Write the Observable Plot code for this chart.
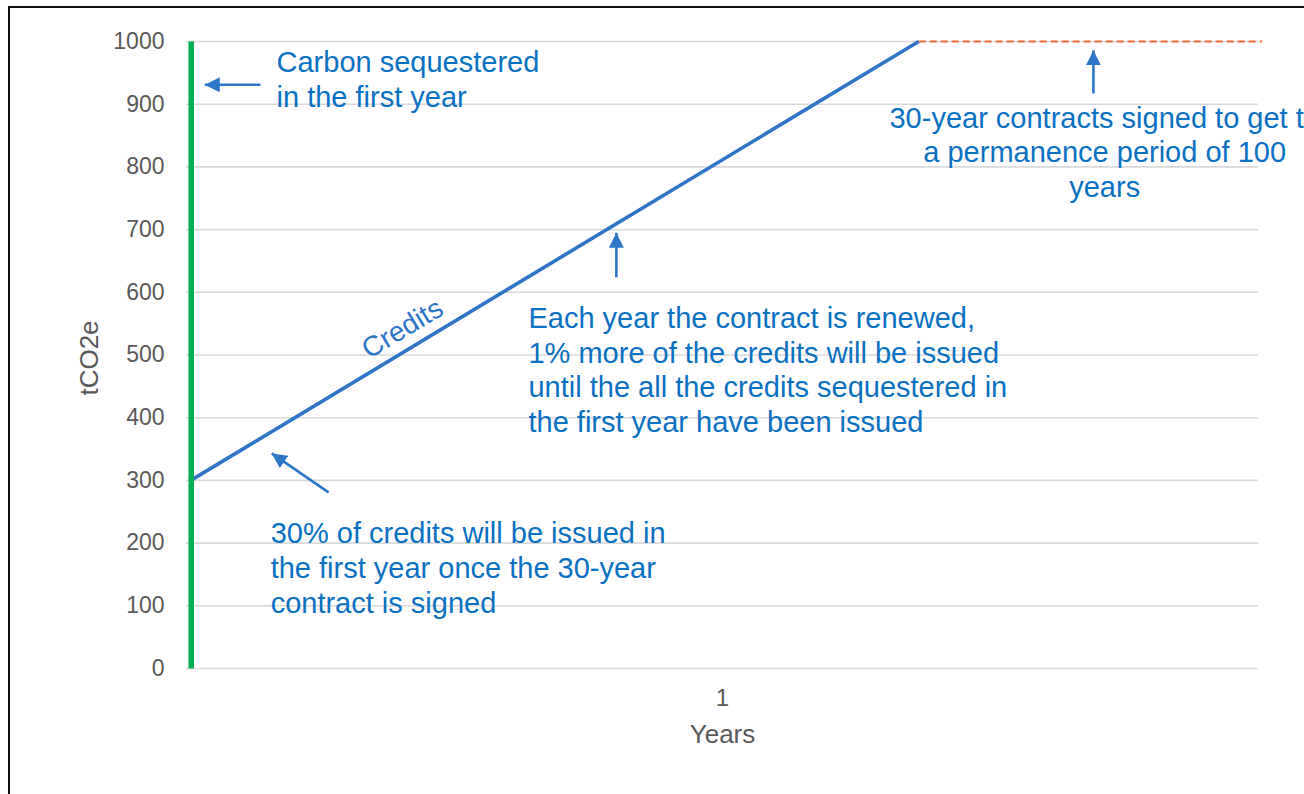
<!DOCTYPE html>
<html>
<head>
<meta charset="utf-8">
<script src="https://cdn.jsdelivr.net/npm/d3@7"></script>
<script src="https://cdn.jsdelivr.net/npm/@observablehq/plot@0.6"></script>
<style>
  html, body { margin: 0; padding: 0; background: #fff; overflow: hidden; width: 1304px; height: 794px; }
  #wrap { position: relative; width: 1304px; height: 794px; overflow: hidden; }
  #frame { position: absolute; left: 8px; top: 6px; width: 1310px; height: 800px; border: 2px solid #111; pointer-events: none; box-sizing: border-box; }
  #chart svg { display: block; max-width: none; }
</style>
</head>
<body>
<div id="wrap">
  <div id="chart"></div>
  <div id="frame"></div>
</div>
<script>
// ---- data ----
const yTicks = [0, 100, 200, 300, 400, 500, 600, 700, 800, 900, 1000];
const xTicks = [1];
const creditsX = [0.008, 1.366];
const creditsY = [300, 1000];
const permanenceX = [1.366, 2.007];
const permanenceY = [1000, 1000];
const sequesteredX = [0.0088, 0.0088];
const sequesteredY = [0, 1000];

// annotations (data units)
const noteText = [
  "Carbon sequestered\nin the first year",
  "30-year contracts signed to get to\na permanence period of 100\nyears",
  "Each year the contract is renewed,\n1% more of the credits will be issued\nuntil the all the credits sequestered in\nthe first year have been issued",
  "30% of credits will be issued in\nthe first year once the 30-year\ncontract is signed"
];
const noteX = [0.168, 1.713, 0.638, 0.157];
const noteY = [941, 825, 478, 162];
const noteAnchor = ["start", "middle", "start", "start"];

const arrowX1 = [0.138, 1.692, 0.802, 0.265];
const arrowY1 = [931, 917, 624, 281];
const arrowX2 = [0.034, 1.692, 0.802, 0.159];
const arrowY2 = [931, 986, 695, 343];

const seriesLabel = ["Credits"];
const seriesLabelX = [0.403];
const seriesLabelY = [542];

// ---- build ----
const credits = creditsX.map((x, i) => ({x, y: creditsY[i]}));
const permanence = permanenceX.map((x, i) => ({x, y: permanenceY[i]}));
const sequestered = sequesteredX.map((x, i) => ({x, y: sequesteredY[i]}));
const notes = noteText.map((t, i) => ({t, x: noteX[i], y: noteY[i], a: noteAnchor[i]}));
const arrows = arrowX1.map((x1, i) => ({x1, y1: arrowY1[i], x2: arrowX2[i], y2: arrowY2[i]}));

const blue = "#2e75c8";
const textBlue = "#0a70c2";
const font = "'Liberation Sans', Arial, sans-serif";

function headMarker(color) {
  const ns = "http://www.w3.org/2000/svg";
  const m = document.createElementNS(ns, "marker");
  m.setAttribute("viewBox", "-15 -7.5 15 15");
  m.setAttribute("markerWidth", "15");
  m.setAttribute("markerHeight", "15");
  m.setAttribute("refX", "0");
  m.setAttribute("refY", "0");
  m.setAttribute("orient", "auto");
  m.setAttribute("markerUnits", "userSpaceOnUse");
  const p = document.createElementNS(ns, "path");
  p.setAttribute("d", "M-15,-7.5L0,0L-15,7.5Z");
  p.setAttribute("fill", color);
  p.setAttribute("stroke", "none");
  m.appendChild(p);
  return m;
}

const chart = Plot.plot({
  width: 1304,
  height: 794,
  marginLeft: 186,
  marginRight: 46,
  marginTop: 41,
  marginBottom: 126,
  style: {fontFamily: font, fontSize: "23px", color: "#595959", background: "transparent"},
  x: {domain: [0, 2], axis: null},
  y: {domain: [0, 1000], axis: null},
  marks: [
    Plot.gridY(yTicks, {stroke: "#d9d9d9", strokeOpacity: 1, strokeWidth: 1.6}),
    Plot.axisY(yTicks, {tickSize: 0, tickPadding: 22, label: null, tickFormat: d => String(d), fill: "#595959", fontSize: 23}),
    Plot.axisX(xTicks, {tickSize: 0, tickPadding: 20, label: null, tickFormat: d => String(d), fill: "#595959", fontSize: 24}),
    Plot.text(["tCO2e"], {frameAnchor: "left", dx: -97, dy: 3, rotate: -90, fill: "#595959", fontSize: 26, textAnchor: "middle", lineAnchor: "middle"}),
    Plot.text(["Years"], {frameAnchor: "bottom", dy: 66, fill: "#595959", fontSize: 26, textAnchor: "middle", lineAnchor: "middle"}),
    Plot.line(permanence, {x: "x", y: "y", stroke: "#f26b3a", strokeWidth: 2, strokeDasharray: "7,4", strokeLinecap: "butt"}),
    Plot.line(credits, {x: "x", y: "y", stroke: blue, strokeWidth: 3.6, strokeLinecap: "butt"}),
    Plot.line(sequestered, {x: "x", y: "y", stroke: "#00b050", strokeWidth: 5.5, strokeLinecap: "butt"}),
    Plot.link(arrows, {x1: "x1", y1: "y1", x2: "x2", y2: "y2", stroke: blue, strokeWidth: 2.6, markerEnd: headMarker}),
    Plot.text(notes, {x: "x", y: "y", text: "t", textAnchor: "start", lineAnchor: "middle", fill: textBlue, fontSize: 29, lineHeight: 1.2, filter: d => d.a === "start"}),
    Plot.text(notes, {x: "x", y: "y", text: "t", textAnchor: "middle", lineAnchor: "middle", fill: textBlue, fontSize: 29, lineHeight: 1.2, filter: d => d.a === "middle"}),
    Plot.text(seriesLabel, {x: seriesLabelX, y: seriesLabelY, text: d => d, rotate: -31, fill: blue, fontSize: 28, textAnchor: "middle", lineAnchor: "middle"})
  ]
});
document.getElementById("chart").appendChild(chart);
</script>
</body>
</html>
